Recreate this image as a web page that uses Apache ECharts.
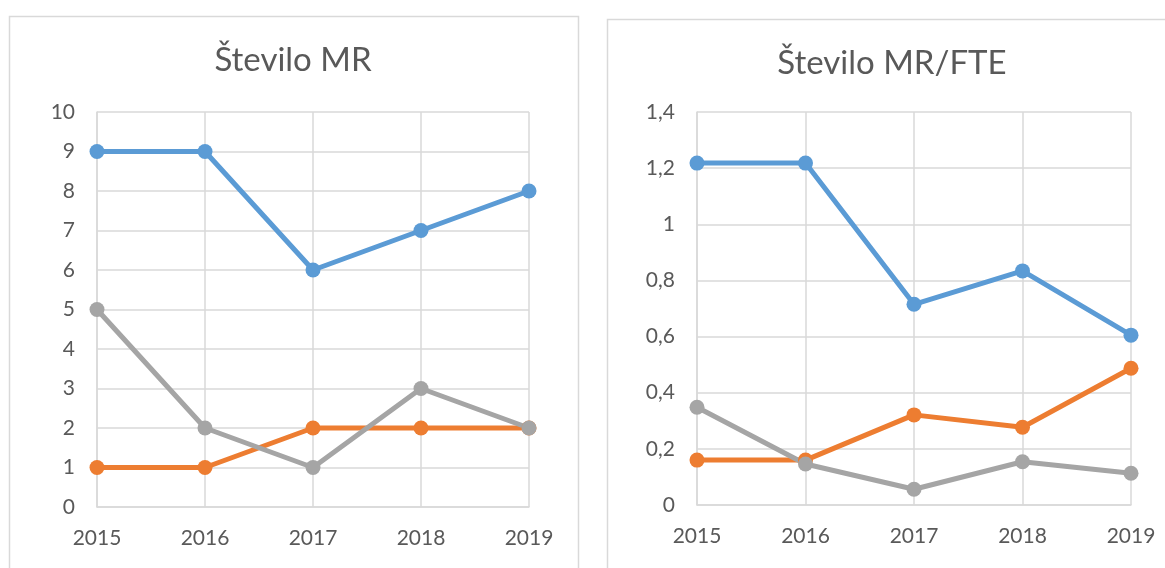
<!DOCTYPE html>
<html><head><meta charset="utf-8">
<script src="https://cdn.jsdelivr.net/npm/echarts@6/dist/echarts.min.js"></script>
<style>html,body{margin:0;padding:0;background:#fff}#c{width:1165px;height:568px}</style>
</head><body><div id="c"></div>
<script>
const years = ['2015','2016','2017','2018','2019'];
const mrBlue = [9, 9, 6, 7, 8];
const mrOrange = [1, 1, 2, 2, 2];
const mrGray = [5, 2, 1, 3, 2];
const fteBlue = [1.218, 1.218, 0.715, 0.834, 0.605];
const fteOrange = [0.160, 0.160, 0.321, 0.277, 0.487];
const fteGray = [0.348, 0.146, 0.056, 0.154, 0.113];
const leftTicks = {min: 0, max: 10, interval: 1};
const rightTicks = {min: 0, max: 1.4, interval: 0.2};

const FONT = 'Lato, "Open Sans", sans-serif';
const TXT = '#595959';
const GRID = '#D9D9D9';
const colors = ['#5B9BD5', '#ED7D31', '#A5A5A5'];

function xAxis(i) {
  return {type: 'category', gridIndex: i, data: years, boundaryGap: false,
    axisLine: {lineStyle: {color: GRID, width: 1.5}}, axisTick: {show: false},
    axisLabel: {color: TXT, fontSize: 21, fontFamily: FONT, margin: 21},
    splitLine: {show: true, lineStyle: {color: GRID, width: 1.5}}};
}
function yAxis(i, t, fmt) {
  return {type: 'value', gridIndex: i, min: t.min, max: t.max, interval: t.interval,
    axisLine: {show: true, lineStyle: {color: GRID, width: 1.5}}, axisTick: {show: false},
    axisLabel: {color: TXT, fontSize: 21, fontFamily: FONT, margin: 22, formatter: fmt},
    splitLine: {show: true, lineStyle: {color: GRID, width: 1.5}}};
}
function line(i, data, c) {
  return {type: 'line', xAxisIndex: i, yAxisIndex: i, data: data, symbol: 'circle', symbolSize: 15,
    lineStyle: {color: c, width: 5}, itemStyle: {color: c}, z: 3, animation: false};
}
const commaFmt = v => { const r = Math.round(v * 10) / 10; return String(r).replace('.', ','); };

const chart = echarts.init(document.getElementById('c'), null, {renderer: 'canvas'});
chart.setOption({
  backgroundColor: '#fff',
  animation: false,
  title: [
    {text: 'Število MR', left: 288, top: 39, textAlign: 'center',
     textStyle: {color: TXT, fontSize: 33, fontWeight: 'normal', fontFamily: FONT}},
    {text: 'Število MR/FTE', left: 887, top: 42, textAlign: 'center',
     textStyle: {color: TXT, fontSize: 33, fontWeight: 'normal', fontFamily: FONT}}
  ],
  graphic: [
    {type: 'rect', shape: {x: 9.5, y: 16.5, width: 569, height: 600}, style: {fill: 'none', stroke: GRID, lineWidth: 1.5}, z: -1},
    {type: 'rect', shape: {x: 607.5, y: 19.5, width: 600, height: 600}, style: {fill: 'none', stroke: GRID, lineWidth: 1.5}, z: -1}
  ],
  grid: [
    {left: 97, right: 636, top: 112, bottom: 61},
    {left: 697, right: 34, top: 112, bottom: 63}
  ],
  xAxis: [xAxis(0), xAxis(1)],
  yAxis: [yAxis(0, leftTicks), yAxis(1, rightTicks, commaFmt)],
  series: [
    line(0, mrBlue, colors[0]), line(0, mrOrange, colors[1]), line(0, mrGray, colors[2]),
    line(1, fteBlue, colors[0]), line(1, fteOrange, colors[1]), line(1, fteGray, colors[2])
  ]
});
</script></body></html>
